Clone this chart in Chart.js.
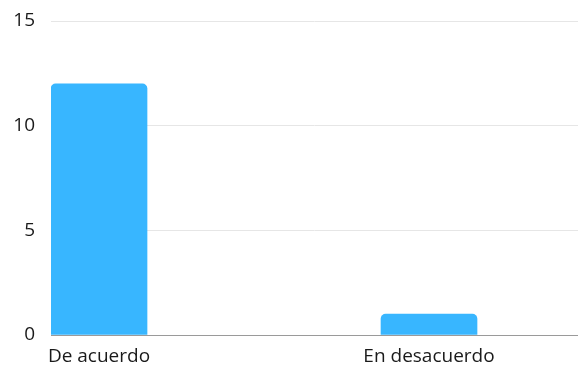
<!DOCTYPE html>
<html>
<head>
<meta charset="utf-8">
<script src="https://cdn.jsdelivr.net/npm/chart.js@4"></script>
<style>
  html, body { margin: 0; padding: 0; background: #fff; }
  #wrap { width: 578px; height: 367px; position: relative; }
</style>
</head>
<body>
<div id="wrap"><canvas id="c"></canvas></div>
<script>
const categories = ['De acuerdo', 'En desacuerdo'];
const values = [12, 1];
const yTicks = [0, 5, 10, 15];

const font = { family: '"Open Sans", sans-serif', size: 19 };

new Chart(document.getElementById('c'), {
  type: 'bar',
  data: {
    datasets: [{
      data: values.map((v, i) => ({ x: i, y: v })),
      backgroundColor: '#38b6ff',
      borderRadius: 5,
      borderSkipped: 'bottom',
      barThickness: 96
    }]
  },
  options: {
    responsive: true,
    maintainAspectRatio: false,
    animation: false,
    layout: { padding: { top: 21, right: 0, left: 0, bottom: 0 } },
    plugins: { legend: { display: false }, tooltip: { enabled: false } },
    scales: {
      x: {
        type: 'linear',
        offset: false,
        bounds: 'data',
        min: -0.1455,
        max: 1.4515,
        grid: { display: false, drawTicks: false, offset: false },
        border: { display: true, color: '#9a9a9a', width: 1 },
        afterBuildTicks: (scale) => { scale.ticks = categories.map((_, i) => ({ value: i })); },
        afterFit: (scale) => { scale.height = 32; },
        ticks: {
          font: font,
          color: '#1a1a1a',
          padding: 10,
          maxRotation: 0,
          autoSkip: false,
          callback: (v) => categories[v] !== undefined ? categories[v] : ''
        }
      },
      y: {
        min: 0,
        max: 15,
        afterBuildTicks: (scale) => { scale.ticks = yTicks.map(v => ({ value: v })); },
        afterFit: (scale) => { scale.width = 51; scale.paddingTop = 0; },
        grid: { color: '#e6e6e6', lineWidth: 1, drawTicks: false },
        border: { display: false },
        ticks: { font: font, color: '#1a1a1a', padding: 16 }
      }
    }
  }
});
</script>
</body>
</html>
